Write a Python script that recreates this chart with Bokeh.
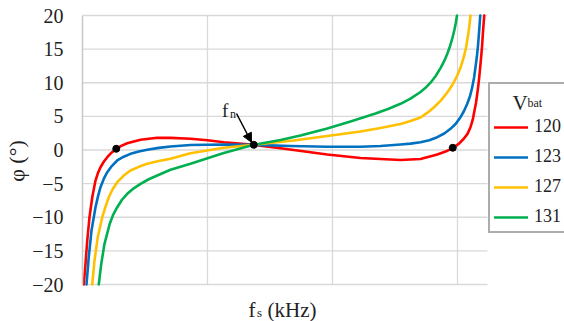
from bokeh.plotting import figure
from bokeh.models import (Range1d, FixedTicker, Legend, LegendItem, Label, Arrow, NormalHead)
from bokeh.embed import file_html
from bokeh.resources import INLINE

# ---- data (x in arbitrary frequency units, grid every 1) ----
x_red = [0.010,0.024,0.038,0.056,0.078,0.104,0.124,0.144,0.170,0.198,0.232,0.270,0.310,0.358,0.464,0.598,0.704,0.864,1.000,1.130,1.370,1.584,1.690,1.958,2.224,2.384,2.544,2.704,2.838,2.910,2.962,3.010,3.050,3.080,3.104,3.122,3.136,3.148,3.158,3.166,3.174,3.182,3.190,3.197,3.203,3.208,3.214]
y_red = [-20,-16.92,-13.46,-9.99,-7.02,-4.54,-3.40,-2.56,-1.75,-1.07,-0.40,0.18,0.62,1.01,1.52,1.81,1.81,1.67,1.44,1.16,0.77,0.25,-0.01,-0.67,-1.19,-1.34,-1.49,-1.34,-0.67,-0.20,0.33,0.90,1.67,2.40,3.39,4.50,5.87,7.00,8.36,9.50,10.83,12.40,14.00,15.60,17.30,18.60,20]

x_blue = [0.032,0.050,0.072,0.104,0.124,0.144,0.170,0.198,0.236,0.278,0.330,0.384,0.450,0.518,0.610,0.704,0.864,1.130,1.370,1.664,1.958,2.224,2.384,2.544,2.624,2.704,2.774,2.838,2.894,2.944,2.986,3.024,3.052,3.078,3.100,3.118,3.132,3.144,3.155,3.164,3.172,3.182]
y_blue = [-20,-15.94,-11.97,-8.51,-6.90,-5.53,-4.30,-3.30,-2.35,-1.56,-1.00,-0.57,-0.22,0.03,0.32,0.52,0.74,0.82,0.77,0.59,0.48,0.48,0.59,0.82,0.95,1.16,1.45,1.90,2.45,3.15,3.90,4.88,5.80,6.87,8.00,9.34,10.70,12.31,13.90,15.50,17.40,20]

x_yellow = [0.078,0.096,0.122,0.158,0.182,0.210,0.242,0.278,0.330,0.384,0.450,0.518,0.610,0.704,0.864,1.130,1.370,1.690,1.958,2.224,2.384,2.544,2.624,2.704,2.760,2.810,2.866,2.918,2.960,2.998,3.026,3.050,3.068,3.082,3.094,3.104]
y_yellow = [-20,-16.43,-12.97,-9.99,-8.55,-7.02,-5.80,-4.79,-3.80,-3.05,-2.50,-2.05,-1.65,-1.31,-0.48,0.33,0.77,1.41,2.08,2.75,3.27,3.87,4.30,4.83,5.55,6.32,7.35,8.55,9.70,11.08,12.35,13.80,15.20,16.77,18.30,20]

x_green = [0.130,0.150,0.176,0.218,0.246,0.278,0.316,0.358,0.410,0.464,0.530,0.598,0.704,0.864,1.130,1.370,1.584,1.744,1.958,2.144,2.344,2.444,2.544,2.624,2.704,2.744,2.784,2.824,2.864,2.892,2.918,2.940,2.958,2.975,2.986,2.996]
y_green = [-20,-16.92,-13.95,-10.97,-9.60,-8.51,-7.40,-6.51,-5.70,-5.03,-4.35,-3.79,-2.94,-2.05,-0.45,0.77,1.49,2.16,3.20,4.24,5.43,6.09,6.87,7.63,8.63,9.25,10.01,10.97,12.17,13.17,14.29,15.43,16.55,17.84,18.85,20]

series_labels = ["120", "123", "127", "131"]
series_colors = ["#FF0000", "#0070C0", "#FFC000", "#00B050"]

dot_x = [0.270, 1.370, 2.962]
dot_y = [0.18, 0.77, 0.33]

y_ticks = [-20, -15, -10, -5, 0, 5, 10, 15, 20]
x_grid = [1, 2, 3]
x_max = 3.24           # right end of the plotting area

FONT = "Liberation Serif"
TXT = "#222222"

W, H = 564, 321
LEFT = 82
p = figure(width=W, height=H, output_backend="svg", toolbar_location=None, title=None,
           x_range=Range1d(0, (W - LEFT) / 125.0),
           y_range=Range1d(-20 - 37 / 6.725, 20 + 15 / 6.725),
           min_border_left=LEFT, min_border_right=0, min_border_top=0, min_border_bottom=0)
p.outline_line_color = None
p.background_fill_color = "white"
p.border_fill_color = "white"
p.xaxis.visible = False
p.xgrid.visible = False
p.ygrid.visible = False

# grid lines limited to the plotting area
p.segment(x0=[0] * len(y_ticks), y0=y_ticks, x1=[x_max] * len(y_ticks), y1=y_ticks,
          line_color="#d9d9d9", line_width=1.3)
p.segment(x0=x_grid, y0=[-20] * len(x_grid), x1=x_grid, y1=[20] * len(x_grid),
          line_color="#d9d9d9", line_width=1.3)

ya = p.yaxis[0]
ya.ticker = FixedTicker(ticks=y_ticks)
ya.bounds = (-20, 20)
ya.axis_line_color = "#c8c8c8"
ya.axis_line_width = 1.5
ya.major_tick_line_color = None
ya.minor_tick_line_color = None
ya.major_tick_out = 0
ya.major_tick_in = 0
ya.minor_tick_out = 0
ya.major_label_standoff = 19
ya.major_label_text_font = FONT
ya.major_label_text_font_size = "20px"
ya.major_label_text_color = TXT
ya.axis_label = "φ (°)"
ya.axis_label_text_font = FONT
ya.axis_label_text_font_style = "normal"
ya.axis_label_text_font_size = "22px"
ya.axis_label_text_color = TXT
ya.axis_label_standoff = 0

renderers = []
for xs, ys, c in [(x_red, y_red, series_colors[0]), (x_blue, y_blue, series_colors[1]),
                  (x_yellow, y_yellow, series_colors[2]), (x_green, y_green, series_colors[3])]:
    r = p.line(xs, ys, line_color=c, line_width=2.6, line_join="round", line_cap="round")
    renderers.append(r)

p.scatter(dot_x, dot_y, size=7, color="black")

# f_n annotation
p.add_layout(Arrow(end=NormalHead(size=9, fill_color="black", line_color="black"),
                   x_start=1.232, y_start=5.43, x_end=1.352, y_end=1.15,
                   line_color="black", line_width=1.5))
p.add_layout(Label(x=1.115, y=5.85, text="f", text_font=FONT, text_font_size="19px",
                   text_baseline="alphabetic", text_color=TXT))
p.add_layout(Label(x=1.180, y=5.3, text="n", text_font=FONT, text_font_size="12px",
                   text_baseline="alphabetic", text_color=TXT))

# x axis title  f_s (kHz)  (screen units relative to the frame's bottom-left)
p.add_layout(Label(x=166, y=12, x_units="screen", y_units="screen", text="f",
                   text_font=FONT, text_font_size="21px", text_baseline="alphabetic", text_color=TXT))
p.add_layout(Label(x=174.5, y=9, x_units="screen", y_units="screen", text="s",
                   text_font=FONT, text_font_size="13px", text_baseline="alphabetic", text_color=TXT))
p.add_layout(Label(x=185, y=12, x_units="screen", y_units="screen", text="(kHz)",
                   text_font=FONT, text_font_size="21px", text_baseline="alphabetic", text_color=TXT))

legend = Legend(items=[LegendItem(label=lab, renderers=[r]) for lab, r in zip(series_labels, renderers)],
                location=(406, 88), orientation="vertical", padding=4, spacing=9,
                glyph_width=34, glyph_height=20, label_height=20, label_standoff=6,
                label_text_font=FONT, label_text_font_size="18px", label_text_color=TXT,
                border_line_color="#595959", border_line_width=2, background_fill_alpha=0.0,
                title=" ", title_text_font_size="20px", title_standoff=5, margin=0)
p.add_layout(legend)

# legend title V_bat
p.add_layout(Label(x=430, y=219, x_units="screen", y_units="screen", text="V", level="overlay",
                   text_font=FONT, text_font_size="21px", text_baseline="alphabetic", text_color=TXT))
p.add_layout(Label(x=445, y=218.5, x_units="screen", y_units="screen", text="bat", level="overlay",
                   text_font=FONT, text_font_size="12px", text_baseline="alphabetic", text_color=TXT))

open("out.html", "w").write(file_html(p, INLINE))
